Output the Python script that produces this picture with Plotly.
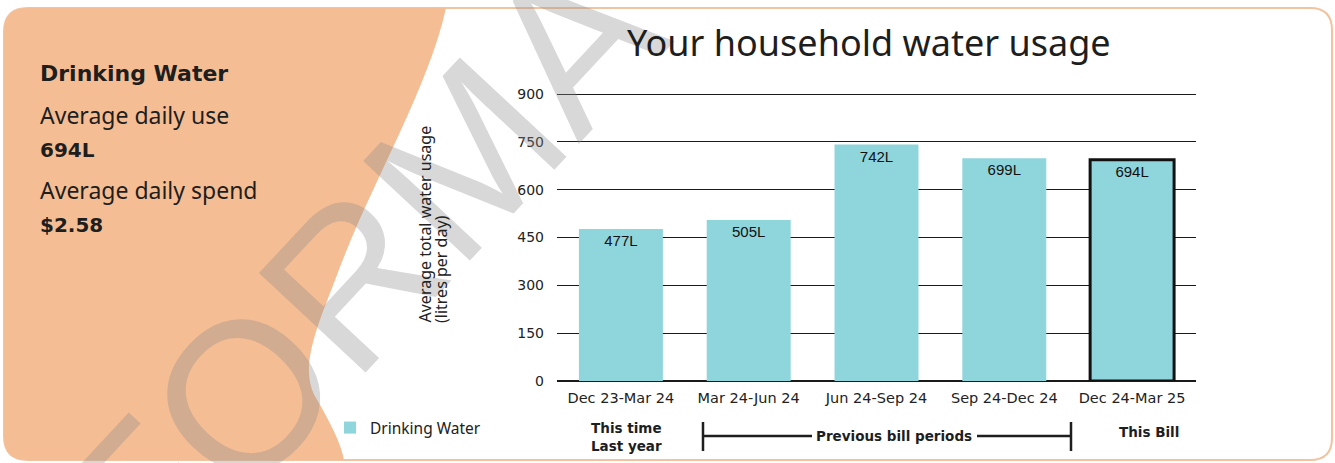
import plotly.graph_objects as go

# ---------------- data ----------------
periods = ["Dec 23-Mar 24", "Mar 24-Jun 24", "Jun 24-Sep 24", "Sep 24-Dec 24", "Dec 24-Mar 25"]
usage = [477, 505, 742, 699, 694]
usage_labels = ["477L", "505L", "742L", "699L", "694L"]
border_widths = [0, 0, 0, 0, 3]
y_ticks = [0, 150, 300, 450, 600, 750, 900]

summary_title = "Drinking Water"
daily_use_label = "Average daily use"
daily_use_value = "694L"
daily_spend_label = "Average daily spend"
daily_spend_value = "$2.58"

# ---------------- geometry helpers ----------------
W, H = 1335, 463
L, R, T, B = 557, 1196, 91, 381   # plot area in pixels
Y_TOP = 910


def px(x):
    return (x - L) / (R - L)


def py(y):
    return (B - y) / (B - T)


def path(cmds):
    out = []
    for c in cmds:
        if isinstance(c, str):
            out.append(c)
        else:
            out.append(f"{px(c[0]):.5f},{py(c[1]):.5f}")
    return " ".join(out)


BAR = "#8fd5dc"
ORANGE = "#f5bd94"
INK = "#1e1e1e"
SANS = "Noto Sans, Arial, sans-serif"
WIDE = "DejaVu Sans, Arial, sans-serif"

fig = go.Figure()
fig.add_trace(go.Bar(
    x=periods, y=usage, name="Drinking Water",
    marker=dict(color=BAR, line=dict(color="#111111", width=border_widths)),
    text=usage_labels, textposition="inside", insidetextanchor="end",
    textfont=dict(family="Liberation Sans, Arial, sans-serif", size=15, color="#111111"),
    constraintext="none", cliponaxis=False, showlegend=True,
))

shapes = []
# card background
card = ["M", (28, 8), "L", (1310, 8), "Q", (1332, 8), (1332, 30), "L", (1332, 438),
        "Q", (1332, 460), (1310, 460), "L", (28, 460), "Q", (4, 460), (4, 436),
        "L", (4, 32), "Q", (4, 8), (28, 8), "Z"]
shapes.append(dict(type="path", xref="paper", yref="paper", path=path(card),
                   fillcolor="white", line=dict(color="#f2c3a0", width=2), layer="below"))
# orange left panel with curved boundary
blob = ["M", (28, 8), "L", (446, 8),
        "C", (428, 90), (370, 185), (337, 275),
        "C", (318, 325), (298, 368), (316, 398),
        "C", (330, 422), (341, 443), (344, 460),
        "L", (28, 460), "Q", (4, 460), (4, 436), "L", (4, 32), "Q", (4, 8), (28, 8), "Z"]
shapes.append(dict(type="path", xref="paper", yref="paper", path=path(blob),
                   fillcolor=ORANGE, line=dict(width=0), layer="below"))
# bracket for previous bill periods
lw = 2.5
shapes.append(dict(type="line", xref="paper", yref="paper", x0=px(703), x1=px(703),
                   y0=py(422), y1=py(451), line=dict(color=INK, width=lw)))
shapes.append(dict(type="line", xref="paper", yref="paper", x0=px(1071), x1=px(1071),
                   y0=py(422), y1=py(451), line=dict(color=INK, width=lw)))
shapes.append(dict(type="line", xref="paper", yref="paper", x0=px(703), x1=px(812),
                   y0=py(436), y1=py(436), line=dict(color=INK, width=lw)))
shapes.append(dict(type="line", xref="paper", yref="paper", x0=px(977), x1=px(1071),
                   y0=py(436), y1=py(436), line=dict(color=INK, width=lw)))

annotations = []


def note(text, x, y, size, bold=False, family=SANS,
         xanchor="left", yanchor="middle", color=INK, angle=0, align="left"):
    if bold:
        text = f"<b>{text}</b>"
    annotations.append(dict(text=text, x=px(x), y=py(y), xref="paper", yref="paper",
                            showarrow=False, xanchor=xanchor, yanchor=yanchor, align=align,
                            textangle=angle, font=dict(family=family, size=size, color=color)))


# watermark (drawn first so the other texts sit on top)
annotations.append(dict(text="FORMA", x=px(360), y=py(270), xref="paper", yref="paper",
                        showarrow=False, xanchor="center", yanchor="middle", textangle=-47,
                        font=dict(family="Liberation Sans, Arial, sans-serif", size=212,
                                  color="rgba(140,140,140,0.34)")))

note(summary_title, 38, 73, 22, bold=True, family=WIDE)
note(daily_use_label, 38, 115, 23)
note(daily_use_value, 38, 150, 20, bold=True, family=WIDE)
note(daily_spend_label, 38, 190, 23)
note(daily_spend_value, 38, 225, 20, bold=True, family=WIDE)

note("Your household water usage", 869, 43, 36, xanchor="center")
note("Average total water usage", 424, 325, 16, xanchor="center", yanchor="bottom",
     angle=-90, color="#222222")
note("(litres per day)", 441, 325, 16, xanchor="center", yanchor="bottom",
     angle=-90, color="#222222")

note("This time<br>Last year", 626, 437, 13.5, bold=True, family=WIDE, xanchor="center",
     align="center")
note("Previous bill periods", 894, 436, 13.5, bold=True, family=WIDE, xanchor="center")
note("This Bill", 1149, 432, 13.5, bold=True, family=WIDE, xanchor="center")

fig.update_layout(
    width=W, height=H,
    margin=dict(l=L, r=W - R, t=T, b=H - B, pad=0),
    paper_bgcolor="white", plot_bgcolor="rgba(0,0,0,0)",
    bargap=0.343,
    shapes=shapes, annotations=annotations,
    showlegend=True,
    legend=dict(x=px(330), y=py(428), xanchor="left", yanchor="middle",
                bgcolor="rgba(0,0,0,0)",
                font=dict(family=SANS, size=15.5, color="#222222")),
    xaxis=dict(showgrid=False, showline=False, zeroline=False, ticks="",
               tickfont=dict(family=WIDE, size=14.5, color="#222222"),
               ticklabelstandoff=6, fixedrange=True),
    yaxis=dict(range=[0, Y_TOP], tickvals=y_ticks, showgrid=True, gridcolor="#1a1a1a",
               gridwidth=1, zeroline=True, zerolinecolor="#1a1a1a", zerolinewidth=1.5,
               showline=False, ticks="",
               tickfont=dict(family=WIDE, size=14, color="#222222"),
               ticklabelstandoff=12, fixedrange=True),
)

fig.write_html("out.html", config={"displayModeBar": False},
               post_script="document.body.style.margin='0';document.body.style.overflow='hidden';")
